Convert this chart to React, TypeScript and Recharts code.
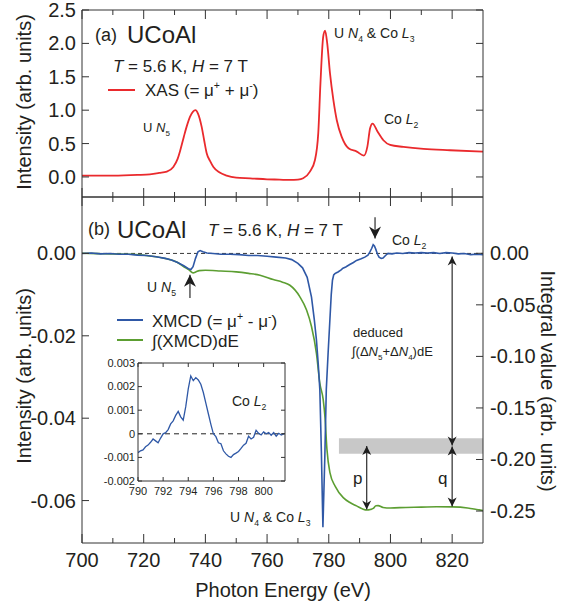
import React from 'react';
import { LineChart, ComposedChart, Line, XAxis, YAxis, ReferenceLine, ReferenceArea } from 'recharts';

const FONT = '"Liberation Sans", Arial, Helvetica, sans-serif';
const INK = '#231f20';
const AXIS = '#333';
const RED = '#ea2a2d';
const BLUE = '#2f58a6';
const GREEN = '#5c9e32';

// axis ticks
const energyTicks = [700, 710, 720, 730, 740, 750, 760, 770, 780, 790, 800, 810, 820];
const xasTicks = [0, 0.5, 1, 1.5, 2, 2.5];
const xmcdTicks = [0, -0.02, -0.04, -0.06];
const integralTicks = [0, -0.05, -0.1, -0.15, -0.2, -0.25];
const insetEnergyTicks = [790, 792, 794, 796, 798, 800];
const insetTicks = [0.003, 0.002, 0.001, 0, -0.001, -0.002];

// (a) XAS
const xasEnergy = [700, 710, 718, 722, 725, 727.5, 729.6, 731, 731.8, 733, 733.9, 735, 736, 736.8, 737.6, 738.8, 739.6, 740.4, 741.5, 742.6, 744.5, 746.9, 750, 754.5, 760, 764, 767.4, 770, 771.7, 773.9, 775.5, 776.6, 777.3, 778.2, 778.8, 779.5, 780.4, 781.5, 782.6, 784.2, 786.4, 789.1, 791.4, 792.5, 793.4, 794.2, 795.8, 797.7, 799.9, 804.2, 810.7, 819.3, 830];
const xasIntensity = [0.02, 0.02, 0.03, 0.04, 0.06, 0.08, 0.15, 0.27, 0.39, 0.6, 0.75, 0.9, 0.98, 1.0, 0.95, 0.75, 0.55, 0.36, 0.24, 0.15, 0.07, 0.02, -0.01, -0.02, -0.035, -0.04, -0.045, -0.04, -0.02, 0.08, 0.25, 0.66, 1.4, 2.1, 2.19, 2.0, 1.55, 1.15, 0.85, 0.6, 0.43, 0.38, 0.32, 0.45, 0.73, 0.8, 0.68, 0.55, 0.48, 0.45, 0.42, 0.4, 0.38];

// (b) XMCD
const xmcdEnergy = [700, 703, 706, 709, 712, 715, 718, 721, 724, 727, 729, 731, 733, 734.5, 735.3, 736, 736.8, 737.6, 738.3, 739.2, 740.5, 742.5, 745, 748, 751, 754, 757, 760, 763, 766, 768, 770, 771.5, 773, 774.4, 775.3, 776, 776.6, 777.1, 777.6, 778.1, 778.7, 779.2, 779.8, 780.3, 780.8, 781.2, 781.6, 782, 782.5, 783, 784, 784.6, 785.5, 786.8, 788, 789, 790.5, 791.7, 792.7, 793.3, 793.9, 794.4, 794.8, 795.2, 795.8, 796.3, 797, 797.6, 798.4, 799.2, 800.5, 802, 804, 806, 808, 810, 812, 814, 816, 818, 820, 822, 824, 826, 828, 830];
const xmcdValue = [0, 0.0001, -0.0001, 0, -0.0002, -0.0002, -0.0004, -0.0005, -0.0008, -0.0012, -0.0016, -0.0022, -0.003, -0.0037, -0.0039, -0.0032, -0.0012, 0.0004, 0.0007, 0.0004, 0.0001, 0, -0.0002, -0.0002, -0.0003, -0.0005, -0.0005, -0.0007, -0.0009, -0.0011, -0.0015, -0.0024, -0.0035, -0.0058, -0.0106, -0.016, -0.021, -0.027, -0.033, -0.048, -0.0665, -0.05, -0.033, -0.024, -0.017, -0.01, -0.0065, -0.0052, -0.0049, -0.0047, -0.0045, -0.004, -0.0036, -0.0033, -0.0027, -0.0022, -0.0017, -0.0013, -0.0009, -0.0004, 0.0003, 0.0012, 0.0021, 0.0018, 0.0011, -0.0002, -0.0009, -0.0012, -0.0011, -0.0005, 0, -0.0001, 0.0001, 0, 0.0002, 0.0001, 0.0002, 0.0001, 0.0002, 0, 0.0002, 0.0001, -0.0001, 0, -0.0003, -0.0002, -0.0003];

// (b) integral of XMCD
const integralEnergy = [700, 705, 710, 716, 722, 727, 730.7, 732.8, 734.8, 736, 737, 738, 740, 745, 750, 754, 757.7, 762, 765, 767.4, 770.6, 772.8, 774.4, 776, 777.1, 778.2, 778.8, 779.4, 780.4, 782.1, 784.7, 787, 789, 791, 792.3, 793.5, 794.4, 795.3, 796, 797.6, 800, 805, 810, 815, 820, 825, 830];
const integralValue = [0, -0.0003, -0.0006, -0.001, -0.0026, -0.005, -0.0084, -0.0126, -0.0164, -0.019, -0.018, -0.0168, -0.0165, -0.0172, -0.018, -0.0195, -0.0213, -0.0255, -0.028, -0.031, -0.042, -0.055, -0.071, -0.097, -0.126, -0.142, -0.16, -0.19, -0.213, -0.226, -0.237, -0.242, -0.245, -0.248, -0.249, -0.2485, -0.2475, -0.2448, -0.2447, -0.2465, -0.247, -0.2465, -0.2462, -0.2458, -0.246, -0.247, -0.2495];

// inset: Co L2 XMCD
const insetEnergy = [790, 790.2, 790.4, 790.6, 790.8, 791, 791.2, 791.4, 791.6, 791.8, 792, 792.2, 792.4, 792.6, 792.8, 793, 793.2, 793.4, 793.6, 793.8, 794, 794.2, 794.4, 794.6, 794.8, 795, 795.2, 795.4, 795.6, 795.8, 796, 796.2, 796.4, 796.6, 796.8, 797, 797.2, 797.4, 797.6, 797.8, 798, 798.2, 798.4, 798.6, 798.8, 799, 799.2, 799.4, 799.6, 799.8, 800, 800.2, 800.4, 800.6, 800.8, 801, 801.2, 801.4, 801.6];
const insetValue = [-0.0008, -0.00072, -0.00068, -0.00055, -0.00048, -0.00036, -0.00022, -0.0003, -0.00038, -0.00018, 0, 0.00005, 0.00018, 0.00042, 0.00055, 0.00078, 0.00095, 0.00072, 0.00058, 0.00115, 0.0019, 0.00245, 0.00225, 0.00238, 0.00228, 0.0021, 0.00175, 0.0013, 0.00085, 0.0004, 0, -0.00012, -0.00038, -0.00042, -0.00072, -0.00085, -0.00095, -0.001, -0.00088, -0.00082, -0.00075, -0.00062, -0.00048, -0.0004, -0.0001, -0.00022, -0.00015, 0.00015, 0.00002, -0.00005, 0.00008, 0, 0.00005, -0.00006, 0.00005, -0.0001, 0.00002, -0.00005, 0];

const zip = (e: number[], v: number[]) => e.map((x, i) => ({ e: x, v: v[i] }));
const xasData = zip(xasEnergy, xasIntensity);
const xmcdData = zip(xmcdEnergy, xmcdValue);
const integralData = zip(integralEnergy, integralValue);
const insetData = zip(insetEnergy, insetValue);

type Side = 'bottom' | 'top' | 'left' | 'right';

// ticks point into the plot; labels sit outside
function makeTick(side: Side, len: (v: number) => number, label?: (v: number) => string, size = 20, gap = 6) {
  return (p: any) => {
    const { x, y, payload } = p;
    const v = payload.value;
    const L = len(v);
    const txt = label ? label(v) : '';
    let line;
    let text = null;
    if (side === 'bottom') {
      line = <line x1={x} y1={y} x2={x} y2={y - L} />;
      if (txt) text = <text x={x} y={y + gap} textAnchor="middle">{txt}</text>;
    } else if (side === 'top') {
      line = <line x1={x} y1={y} x2={x} y2={y + L} />;
    } else if (side === 'left') {
      line = <line x1={x} y1={y} x2={x + L} y2={y} />;
      if (txt) text = <text x={x - gap} y={y} dy="0.35em" textAnchor="end">{txt}</text>;
    } else {
      line = <line x1={x} y1={y} x2={x - L} y2={y} />;
      if (txt) text = <text x={x + gap} y={y} dy="0.35em" textAnchor="start">{txt}</text>;
    }
    return (
      <g>
        <g stroke={AXIS} strokeWidth={1}>{line}</g>
        {text && <g fill={INK} fontSize={size} fontFamily={FONT}>{text}</g>}
      </g>
    );
  };
}

const energyLen = (v: number) => (v % 20 === 0 ? 9 : 5);
const energyLabel = (v: number) => (v % 20 === 0 ? String(v) : '');
const flat = (n: number) => () => n;

function arrowShape(atStart: boolean, atEnd: boolean, hl = 11, hw = 5.5) {
  return (p: any) => {
    const { x1, y1, x2, y2 } = p;
    const head = (tx: number, ty: number, fx: number, fy: number) => {
      const dx = tx - fx;
      const dy = ty - fy;
      const d = Math.hypot(dx, dy) || 1;
      const ux = dx / d;
      const uy = dy / d;
      const bx = tx - ux * hl;
      const by = ty - uy * hl;
      const nx = tx - ux * hl * 0.7;
      const ny = ty - uy * hl * 0.7;
      return `${tx},${ty} ${bx - uy * hw},${by + ux * hw} ${nx},${ny} ${bx + uy * hw},${by - ux * hw}`;
    };
    return (
      <g>
        <line x1={x1} y1={y1} x2={x2} y2={y2} stroke="#2b2b2b" strokeWidth={1.2} />
        {atStart && <polygon points={head(x1, y1, x2, y2)} fill="#1e1e1e" />}
        {atEnd && <polygon points={head(x2, y2, x1, y1)} fill="#1e1e1e" />}
      </g>
    );
  };
}

type Piece = { t: string; i?: boolean; sub?: boolean; sup?: boolean };

function Rich({ x, y, size, parts, anchor }: { x: number; y: number; size: number; parts: Piece[]; anchor?: string }) {
  let shift = 0;
  return (
    <text x={x} y={y} fontSize={size} fill={INK} fontFamily={FONT} textAnchor={anchor as any}>
      {parts.map((p, k) => {
        const target = p.sub ? size * 0.3 : p.sup ? -size * 0.42 : 0;
        const dy = target - shift;
        shift = target;
        return (
          <tspan key={k} dy={dy} fontStyle={p.i ? 'italic' : undefined} fontSize={p.sub || p.sup ? size * 0.62 : undefined}>
            {p.t}
          </tspan>
        );
      })}
    </text>
  );
}

const tempField: Piece[] = [{ t: 'T', i: true }, { t: ' = 5.6 K, ' }, { t: 'H', i: true }, { t: ' = 7 T' }];

export default function App() {
  return (
    <div style={{ position: 'absolute', left: 0, top: 0, width: 579, height: 605, background: '#fff', fontFamily: FONT }}>
      {/* panel (a) */}
      <div style={{ position: 'absolute', left: 0, top: 0 }}>
        <LineChart width={579} height={200} margin={{ top: 9, right: 95, bottom: 2, left: 0 }}>
          <XAxis xAxisId="b" dataKey="e" type="number" domain={[700, 830]} allowDataOverflow ticks={energyTicks} interval={0}
            height={1} tickSize={0} tickMargin={0} tickLine={false} stroke={AXIS} tick={makeTick('bottom', energyLen)} />
          <XAxis xAxisId="t" orientation="top" dataKey="e" type="number" domain={[700, 830]} allowDataOverflow ticks={energyTicks} interval={0}
            height={1} tickSize={0} tickMargin={0} tickLine={false} stroke={AXIS} tick={makeTick('top', energyLen)} />
          <YAxis yAxisId="l" type="number" domain={[-0.3, 2.5]} allowDataOverflow ticks={xasTicks} interval={0} width={82}
            tickSize={0} tickMargin={0} tickLine={false} stroke={AXIS} tick={makeTick('left', flat(7), (v) => v.toFixed(1))} />
          <YAxis yAxisId="r" orientation="right" type="number" domain={[-0.3, 2.5]} allowDataOverflow ticks={xasTicks} interval={0} width={1}
            tickSize={0} tickMargin={0} tickLine={false} stroke={AXIS} tick={makeTick('right', flat(7))} />
          <Line xAxisId="b" yAxisId="l" data={xasData} dataKey="v" type="monotone" stroke={RED} strokeWidth={1.8} dot={false} isAnimationActive={false} />
        </LineChart>
      </div>

      {/* panel (b) */}
      <div style={{ position: 'absolute', left: 0, top: 0 }}>
        <ComposedChart width={579} height={605} margin={{ top: 196, right: 95, bottom: 61, left: 0 }}>
          <XAxis xAxisId="b" dataKey="e" type="number" domain={[700, 830]} allowDataOverflow ticks={energyTicks} interval={0}
            height={1} tickSize={0} tickMargin={0} tickLine={false} stroke={AXIS} tick={makeTick('bottom', energyLen, energyLabel, 20, 24)} />
          <XAxis xAxisId="t" orientation="top" dataKey="e" type="number" domain={[700, 830]} allowDataOverflow ticks={energyTicks} interval={0}
            height={1} tickSize={0} tickMargin={0} tickLine={false} stroke={AXIS} tick={makeTick('top', energyLen)} />
          <YAxis yAxisId="l" type="number" domain={[-0.0703, 0.0137]} allowDataOverflow ticks={xmcdTicks} interval={0} width={82}
            tickSize={0} tickMargin={0} tickLine={false} stroke={AXIS} tick={makeTick('left', flat(7), (v) => v.toFixed(2))} />
          <YAxis yAxisId="r" orientation="right" type="number" domain={[-0.281, 0.0546]} allowDataOverflow ticks={integralTicks} interval={0} width={1}
            tickSize={0} tickMargin={0} tickLine={false} stroke={AXIS} tick={makeTick('right', flat(7), (v) => v.toFixed(2), 20, 7)} />
          <ReferenceArea xAxisId="b" yAxisId="r" x1={783.3} x2={830} y1={-0.1795} y2={-0.1945} fill="#c8c8c8" fillOpacity={1} stroke="none" />
          <ReferenceLine xAxisId="b" yAxisId="l" y={0} stroke="#3a3a3a" strokeWidth={1} strokeDasharray="4 3" />
          <Line xAxisId="b" yAxisId="r" data={integralData} dataKey="v" type="monotone" stroke={GREEN} strokeWidth={1.6} dot={false} isAnimationActive={false} />
          <Line xAxisId="b" yAxisId="l" data={xmcdData} dataKey="v" type="linear" stroke={BLUE} strokeWidth={1.6} dot={false} isAnimationActive={false} />
          {/* arrows */}
          <ReferenceLine xAxisId="b" yAxisId="l" segment={[{ x: 735, y: -0.0108 }, { x: 735, y: -0.0052 }]} shape={arrowShape(false, true, 12, 6)} />
          <ReferenceLine xAxisId="b" yAxisId="l" segment={[{ x: 795, y: 0.0088 }, { x: 795, y: 0.0036 }]} shape={arrowShape(false, true, 12, 6)} />
          <ReferenceLine xAxisId="b" yAxisId="r" segment={[{ x: 792.3, y: -0.187 }, { x: 792.3, y: -0.2485 }]} shape={arrowShape(true, true, 9, 4.5)} />
          <ReferenceLine xAxisId="b" yAxisId="r" segment={[{ x: 820, y: -0.003 }, { x: 820, y: -0.1865 }]} shape={arrowShape(true, true, 9, 4.5)} />
          <ReferenceLine xAxisId="b" yAxisId="r" segment={[{ x: 820, y: -0.1875 }, { x: 820, y: -0.2455 }]} shape={arrowShape(true, true, 9, 4.5)} />
        </ComposedChart>
      </div>

      {/* inset */}
      <div style={{ position: 'absolute', left: 60, top: 330 }}>
        <LineChart width={240} height={180} margin={{ top: 32, right: 14, bottom: 28, left: 0 }}>
          <XAxis dataKey="e" type="number" domain={[790, 801.7]} allowDataOverflow ticks={insetEnergyTicks} interval={0}
            height={1} tickSize={0} tickMargin={0} tickLine={false} stroke={AXIS} tick={makeTick('bottom', flat(4), (v) => String(v), 11, 14)} />
          <XAxis xAxisId="t" orientation="top" dataKey="e" type="number" domain={[790, 801.7]} allowDataOverflow ticks={insetEnergyTicks} interval={0}
            height={1} tickSize={0} tickMargin={0} tickLine={false} stroke={AXIS} tick={makeTick('top', flat(4))} />
          <YAxis yAxisId="l" type="number" domain={[-0.002, 0.003]} allowDataOverflow ticks={insetTicks} interval={0} width={78}
            tickSize={0} tickMargin={0} tickLine={false} stroke={AXIS}
            tick={makeTick('left', flat(4), (v) => (v === 0 ? '0' : v.toFixed(3)), 11, 3)} />
          <YAxis yAxisId="r" orientation="right" type="number" domain={[-0.002, 0.003]} allowDataOverflow ticks={insetTicks} interval={0} width={1}
            tickSize={0} tickMargin={0} tickLine={false} stroke={AXIS} tick={makeTick('right', flat(4))} />
          <ReferenceLine yAxisId="l" y={0} stroke="#222" strokeWidth={1} strokeDasharray="5 4" />
          <Line yAxisId="l" data={insetData} dataKey="v" type="linear" stroke={BLUE} strokeWidth={1.3} dot={false} isAnimationActive={false} />
        </LineChart>
      </div>

      {/* annotations */}
      <svg width={579} height={605} style={{ position: 'absolute', left: 0, top: 0, pointerEvents: 'none' }}>
        <g fill={INK} fontFamily={FONT}>
          <text transform="translate(31,102) rotate(-90)" textAnchor="middle" fontSize={20}>Intensity (arb. units)</text>
          <text transform="translate(31,376) rotate(-90)" textAnchor="middle" fontSize={20}>Intensity (arb. units)</text>
          <text transform="translate(541,381) rotate(90)" textAnchor="middle" fontSize={20}>Integral value (arb. units)</text>
          <text x={283} y={597} textAnchor="middle" fontSize={20}>Photon Energy (eV)</text>

          <text x={95} y={41} fontSize={18}>(a)</text>
          <text x={127} y={43} fontSize={24}>UCoAl</text>
          <text x={88} y={235} fontSize={18}>(b)</text>
          <text x={117} y={238} fontSize={24}>UCoAl</text>
        </g>
        <Rich x={113} y={72} size={17} parts={tempField} />
        <Rich x={208} y={236} size={17} parts={tempField} />

        <line x1={108} y1={90} x2={135} y2={90} stroke={RED} strokeWidth={2} />
        <Rich x={145} y={96} size={17} parts={[{ t: 'XAS (= μ' }, { t: '+', sup: true }, { t: ' + μ' }, { t: '-', sup: true }, { t: ')' }]} />
        <line x1={117} y1={320} x2={143} y2={320} stroke={BLUE} strokeWidth={2} />
        <Rich x={152} y={327} size={17} parts={[{ t: 'XMCD (= μ' }, { t: '+', sup: true }, { t: ' - μ' }, { t: '-', sup: true }, { t: ')' }]} />
        <line x1={117} y1={340} x2={143} y2={340} stroke={GREEN} strokeWidth={2} />
        <Rich x={152} y={347} size={17} parts={[{ t: '∫(XMCD)dE' }]} />

        <Rich x={143} y={132} size={13} parts={[{ t: 'U ' }, { t: 'N', i: true }, { t: '5', sub: true }]} />
        <Rich x={334} y={38} size={14} parts={[{ t: 'U ' }, { t: 'N', i: true }, { t: '4', sub: true }, { t: ' & Co ' }, { t: 'L', i: true }, { t: '3', sub: true }]} />
        <Rich x={384} y={124} size={14} parts={[{ t: 'Co ' }, { t: 'L', i: true }, { t: '2', sub: true }]} />

        <Rich x={147} y={292} size={14} parts={[{ t: 'U ' }, { t: 'N', i: true }, { t: '5', sub: true }]} />
        <Rich x={392} y={245} size={14} parts={[{ t: 'Co ' }, { t: 'L', i: true }, { t: '2', sub: true }]} />
        <Rich x={232} y={406} size={14} parts={[{ t: 'Co ' }, { t: 'L', i: true }, { t: '2', sub: true }]} />
        <Rich x={230} y={522} size={14} parts={[{ t: 'U ' }, { t: 'N', i: true }, { t: '4', sub: true }, { t: ' & Co ' }, { t: 'L', i: true }, { t: '3', sub: true }]} />

        <Rich x={353} y={337} size={13} parts={[{ t: 'deduced' }]} />
        <Rich x={352} y={356} size={13} parts={[{ t: '∫(Δ' }, { t: 'N', i: true }, { t: '5', sub: true }, { t: '+Δ' }, { t: 'N', i: true }, { t: '4', sub: true }, { t: ')dE' }]} />

        <Rich x={353} y={484} size={17} parts={[{ t: 'p' }]} />
        <Rich x={438} y={484} size={17} parts={[{ t: 'q' }]} />
      </svg>
    </div>
  );
}
